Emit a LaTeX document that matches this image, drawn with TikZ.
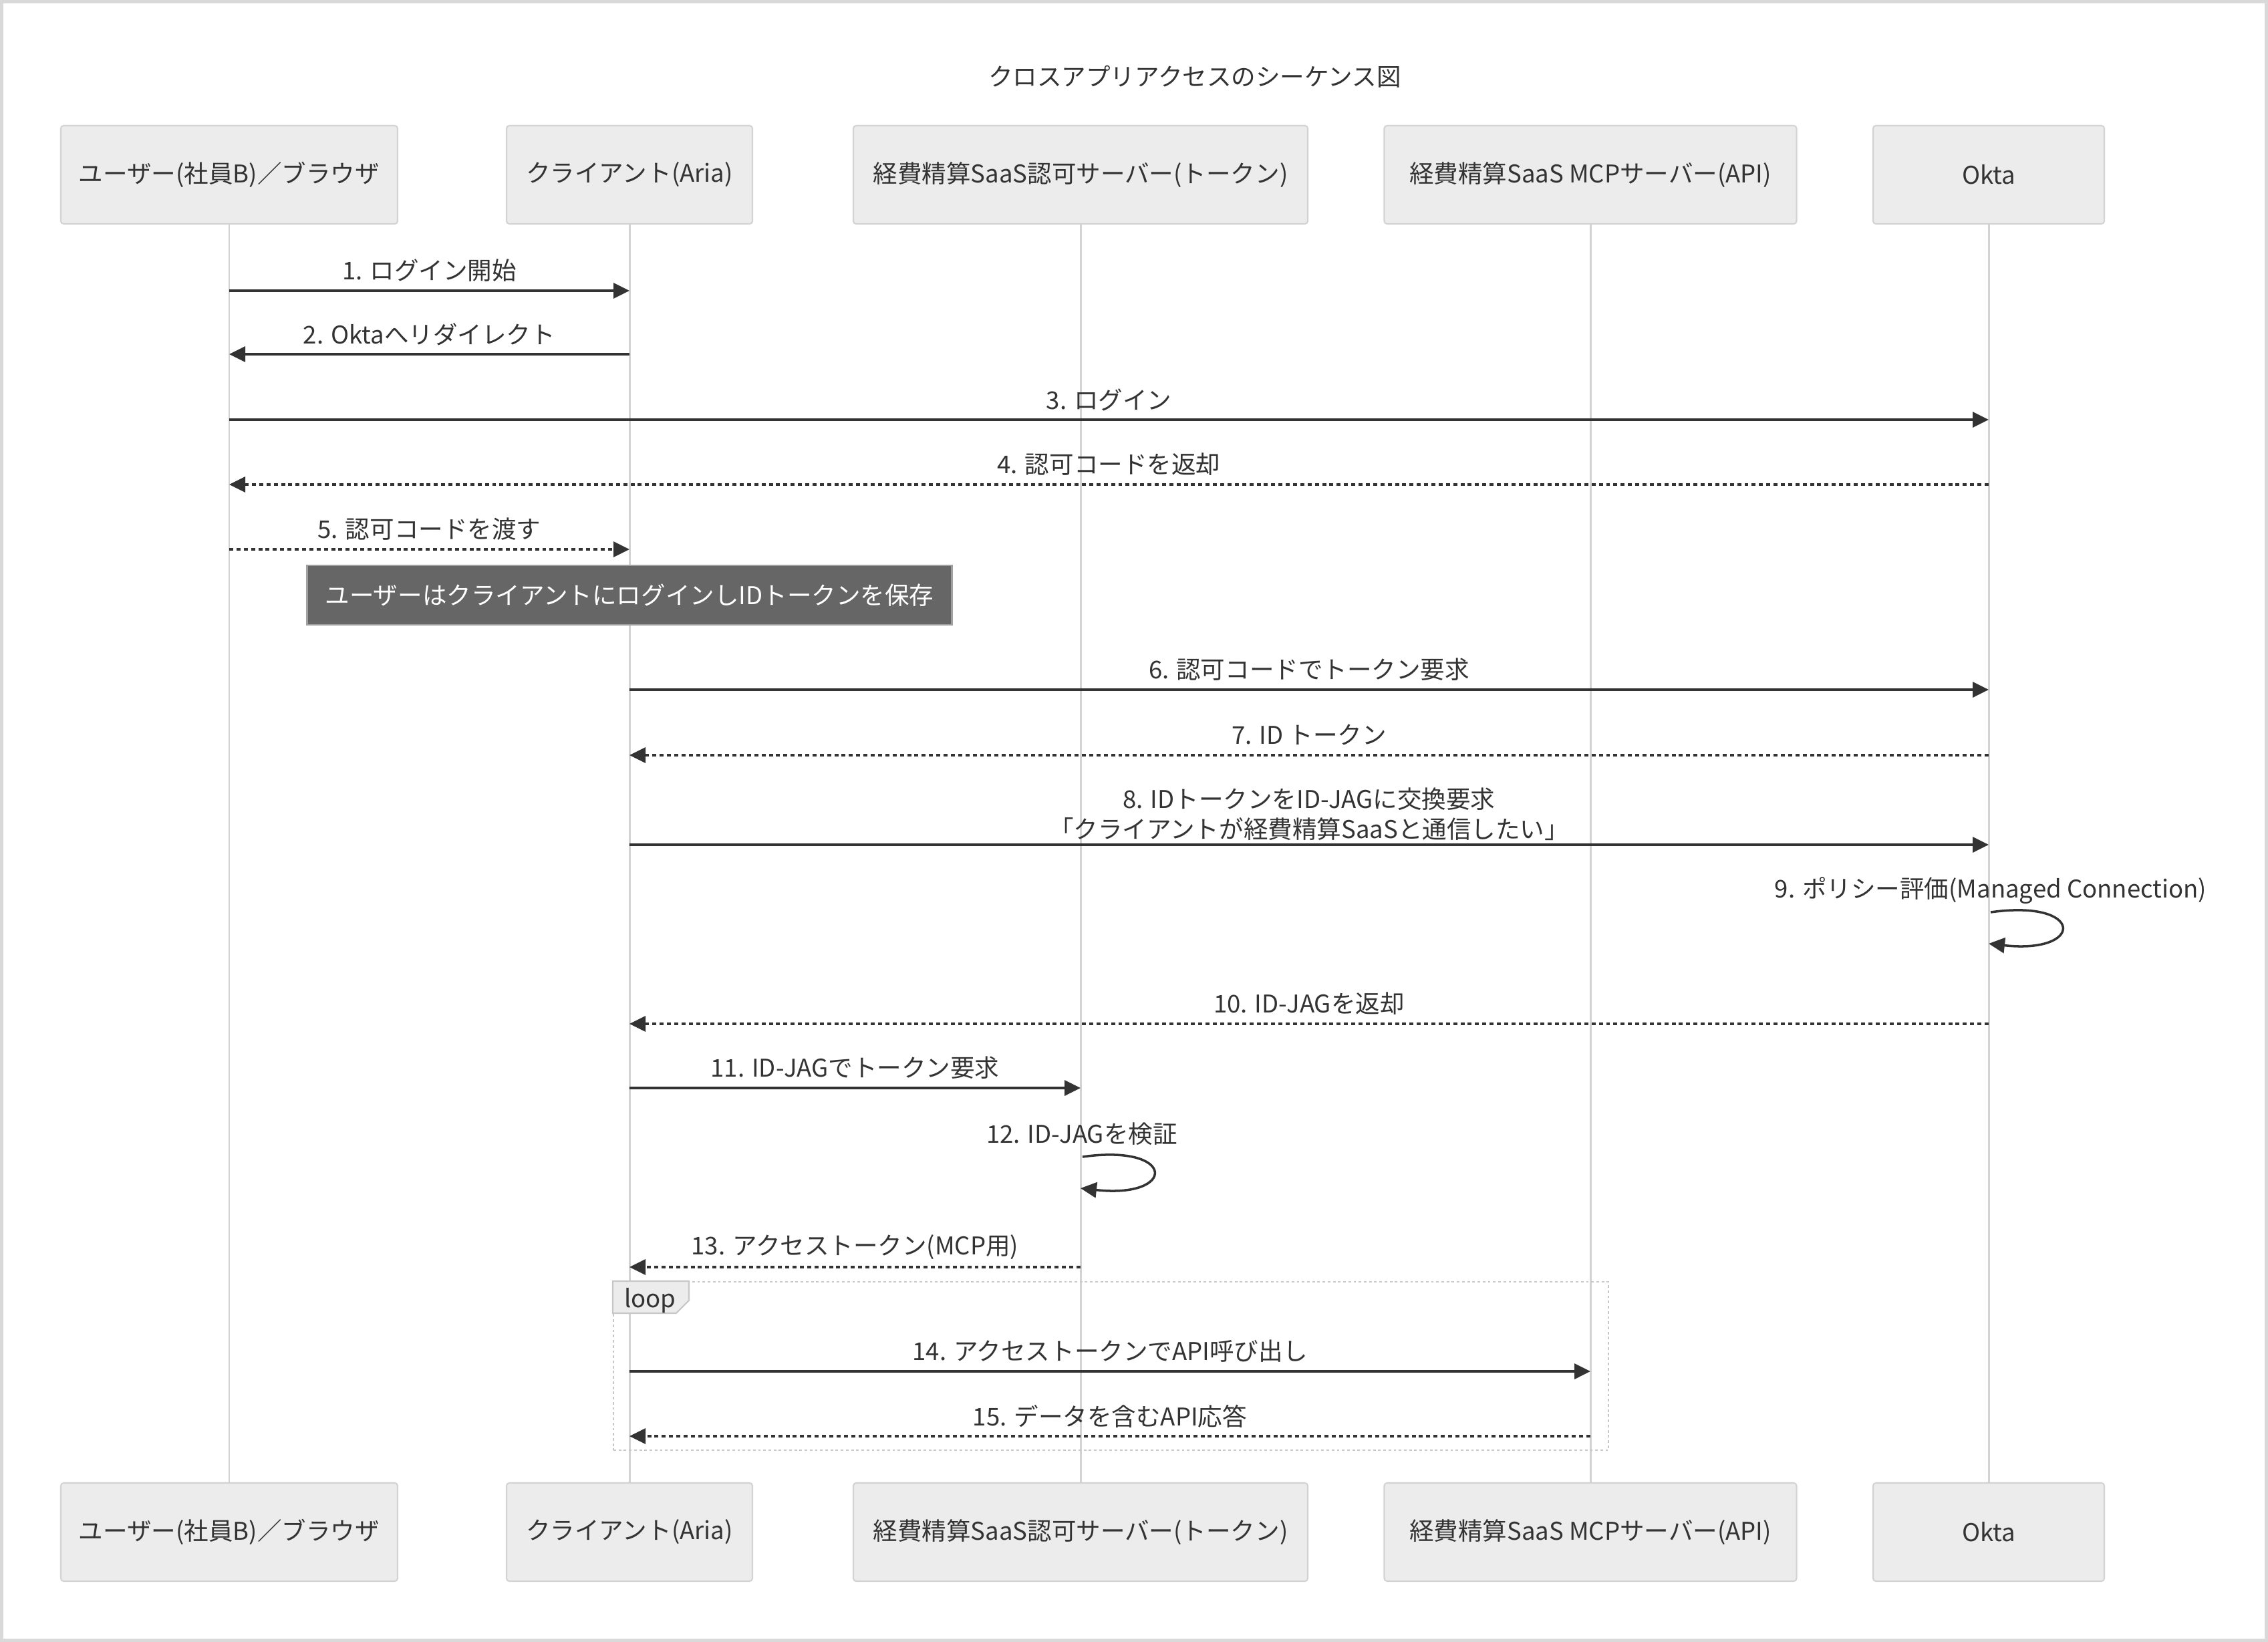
\documentclass[tikz,border=0pt]{standalone}
\usepackage{fontspec}
\setmainfont{Noto Sans CJK JP}
\usepackage{tikz}
\usetikzlibrary{arrows.meta}
\usepackage{xcolor}

\definecolor{lineDark}{HTML}{333333}
\definecolor{actorFill}{HTML}{ECECEC}
\definecolor{actorLine}{HTML}{D3D3D3}
\definecolor{lifeGray}{HTML}{D3D3D3}
\definecolor{noteFill}{HTML}{666666}
\definecolor{noteLine}{HTML}{A0A0A0}
\definecolor{frameGray}{HTML}{D9D9D9}

\begin{document}
\begin{tikzpicture}[
  font=\fontsize{10.4}{12.8}\selectfont,
  every node/.style={align=center,text=lineDark},
  actor/.style={draw=actorLine,line width=0.6pt,fill=actorFill,rounded corners=1.2pt,minimum height=1.47cm,inner sep=0pt},
  lifeLine/.style={draw=lifeGray,line width=0.85pt},
  note/.style={draw=noteLine,line width=0.6pt,fill=noteFill,text=white,minimum width=9.65cm,minimum height=0.89cm},
  callMsg/.style={-{Triangle[length=0.24cm,width=0.23cm]},draw=lineDark,line width=1pt},
  replyMsg/.style={callMsg,dash pattern=on 1.7pt off 1.4pt},
  selfMsg/.style={callMsg},
  msgLabel/.style={yshift=0.3cm},
  loopFrame/.style={draw=black!22,line width=0.6pt,dash pattern=on 1.1pt off 1.1pt,minimum width=14.89cm,minimum height=2.52cm},
  loopTagShape/.style={draw=black!22,line width=0.6pt,fill=actorFill}]

  \useasboundingbox (0,0) rectangle (33.94,-24.57);
  \draw [frameGray,line width=1.4pt] (0.025,-0.025) rectangle (33.915,-24.545);

  \node (title) at (17.88,-1.15) {クロスアプリアクセスのシーケンス図};

  % actors, top and bottom, with their lifelines
  \foreach \a/\x/\w/\txt in {usr/3.43/5.04/{ユーザー(社員B)／ブラウザ},
                             cli/9.42/3.68/{クライアント(Aria)},
                             aut/16.17/6.80/{経費精算SaaS認可サーバー(トークン)},
                             mcp/23.80/6.17/{経費精算SaaS MCPサーバー(API)},
                             okt/29.76/3.46/{Okta}} {
    \node[actor,minimum width=\w cm] (\a T) at (\x,-2.615) {\txt};
    \node[actor,minimum width=\w cm] (\a B) at (\x,-22.925) {\txt};
    \draw [lifeLine] (\a T) -- (\a B);
  }

  % message end points on the lifelines
  \foreach \a/\x in {usr/3.43,cli/9.42,aut/16.17,mcp/23.80,okt/29.76}
    \foreach \r/\y in {1/4.35,2/5.30,3/6.28,4/7.25,5/8.22,6/10.32,7/11.30,8/12.64,10/15.32,11/16.28,13/18.96,14/20.52,15/21.49}
      \coordinate (\a\r) at (\x,-\y);

  % login
  \draw [callMsg] (usr1) -- node[msgLabel] {1. ログイン開始} (cli1);
  \draw [callMsg] (cli2) -- node[msgLabel] {2. Oktaへリダイレクト} (usr2);
  \draw [callMsg] (usr3) -- node[msgLabel] {3. ログイン} (okt3);
  \draw [replyMsg] (okt4) -- node[msgLabel] {4. 認可コードを返却} (usr4);
  \draw [replyMsg] (usr5) -- node[msgLabel] {5. 認可コードを渡す} (cli5);

  \node[note] (saved) at (9.42,-8.905) {ユーザーはクライアントにログインしIDトークンを保存};

  % token exchange
  \draw [callMsg] (cli6) -- node[msgLabel] {6. 認可コードでトークン要求} (okt6);
  \draw [replyMsg] (okt7) -- node[msgLabel] {7. ID トークン} (cli7);
  \draw [callMsg] (cli8) -- node[yshift=0.46cm] {8. IDトークンをID-JAGに交換要求\\「クライアントが経費精算SaaSと通信したい」} (okt8);

  \coordinate (okt9a) at (29.79,-13.65);
  \coordinate (okt9b) at (29.76,-14.12);
  \node (policy) at (29.79,-13.33) {9. ポリシー評価(Managed Connection)};
  \draw [selfMsg] (okt9a) .. controls (31.2,-13.45) and (31.2,-14.28) .. (okt9b);

  \draw [replyMsg] (okt10) -- node[msgLabel] {10. ID-JAGを返却} (cli10);
  \draw [callMsg] (cli11) -- node[msgLabel] {11. ID-JAGでトークン要求} (aut11);

  \coordinate (aut12a) at (16.20,-17.31);
  \coordinate (aut12b) at (16.17,-17.78);
  \node (verify) at (16.19,-16.97) {12. ID-JAGを検証};
  \draw [selfMsg] (aut12a) .. controls (17.61,-17.11) and (17.61,-17.94) .. (aut12b);

  \draw [replyMsg] (aut13) -- node[msgLabel] {13. アクセストークン(MCP用)} (cli13);

  % loop
  \node[loopFrame] (loopBox) at (16.625,-20.44) {};
  \draw [loopTagShape] (loopBox.north west) -- ++(1.14,0) -- ++(0,-0.29) -- ++(-0.19,-0.19) -- ++(-0.95,0) -- cycle;
  \node (loopTag) at ([xshift=0.56cm,yshift=-0.29cm]loopBox.north west) {loop};

  \draw [callMsg] (cli14) -- node[msgLabel] {14. アクセストークンでAPI呼び出し} (mcp14);
  \draw [replyMsg] (mcp15) -- node[msgLabel] {15. データを含むAPI応答} (cli15);

\end{tikzpicture}
\end{document}
